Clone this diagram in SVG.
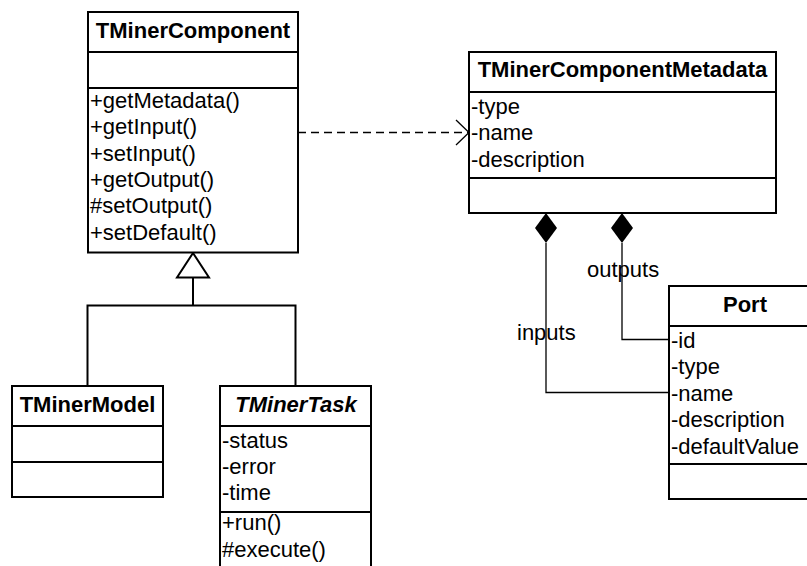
<svg xmlns="http://www.w3.org/2000/svg" width="807" height="566" viewBox="0 0 807 566">
<style>
.box{fill:#fff;stroke:#000;stroke-width:2}
.sep{stroke:#000;stroke-width:2}
.t{font-family:"Liberation Sans",Arial,sans-serif;font-size:22px;fill:#000}
.title{font-weight:bold;text-anchor:middle}
.it{font-style:italic}
.thin{fill:none;stroke:#000;stroke-width:1.3}
.gen{fill:none;stroke:#000;stroke-width:2}
</style>
<rect width="807" height="566" fill="#fff"/>
<g id="connectors">
  <path class="thin" d="M298 132.5H469" stroke-dasharray="8,5"/>
  <path class="thin" d="M456 120L469 132.5L456 145"/>
  <path class="gen" d="M193 277.5V305.5M87.5 386V305.5H295.5V386"/>
  <polygon points="193,253 209,277.5 177,277.5" fill="#fff" stroke="#000" stroke-width="2"/>
  <path class="thin" d="M546 243V392.5H670"/>
  <path class="thin" d="M622 243V339.5H670"/>
  <polygon points="546,213 557,228 546,243 535,228" fill="#000"/>
  <polygon points="622,213 633,228 622,243 611,228" fill="#000"/>
  <text class="t" x="587" y="277">outputs</text>
  <text class="t" x="517" y="340">inputs</text>
</g>
<g id="TMinerComponent">
  <rect class="box" x="88" y="12" width="210" height="240.5"/>
  <line class="sep" x1="88" y1="52" x2="298" y2="52"/>
  <line class="sep" x1="88" y1="88" x2="298" y2="88"/>
  <text class="t title" x="193" y="38">TMinerComponent</text>
  <text class="t" x="90" y="108">+getMetadata()</text>
  <text class="t" x="90" y="134.3">+getInput()</text>
  <text class="t" x="90" y="160.6">+setInput()</text>
  <text class="t" x="90" y="186.9">+getOutput()</text>
  <text class="t" x="90" y="213.2">#setOutput()</text>
  <text class="t" x="90" y="239.5">+setDefault()</text>
</g>
<g id="TMinerComponentMetadata">
  <rect class="box" x="469" y="52" width="307" height="161"/>
  <line class="sep" x1="469" y1="92" x2="776" y2="92"/>
  <line class="sep" x1="469" y1="178" x2="776" y2="178"/>
  <text class="t title" x="622.5" y="77">TMinerComponentMetadata</text>
  <text class="t" x="471" y="113.5">-type</text>
  <text class="t" x="471" y="140">-name</text>
  <text class="t" x="471" y="166.7">-description</text>
</g>
<g id="TMinerModel">
  <rect class="box" x="12" y="386" width="151" height="111"/>
  <line class="sep" x1="12" y1="426" x2="163" y2="426"/>
  <line class="sep" x1="12" y1="462" x2="163" y2="462"/>
  <text class="t title" x="87.5" y="412">TMinerModel</text>
</g>
<g id="TMinerTask">
  <rect class="box" x="220" y="386" width="151" height="200"/>
  <line class="sep" x1="220" y1="426" x2="371" y2="426"/>
  <line class="sep" x1="220" y1="512" x2="371" y2="512"/>
  <text class="t title it" x="296" y="412">TMinerTask</text>
  <text class="t" x="222" y="448.3">-status</text>
  <text class="t" x="222" y="474.3">-error</text>
  <text class="t" x="222" y="500.3">-time</text>
  <text class="t" x="222" y="530">+run()</text>
  <text class="t" x="222" y="556.5">#execute()</text>
</g>
<g id="Port">
  <rect class="box" x="669" y="286" width="153" height="213"/>
  <line class="sep" x1="669" y1="326" x2="822" y2="326"/>
  <line class="sep" x1="669" y1="464" x2="822" y2="464"/>
  <text class="t title" x="745" y="312">Port</text>
  <text class="t" x="671" y="347.5">-id</text>
  <text class="t" x="671" y="374">-type</text>
  <text class="t" x="671" y="400.7">-name</text>
  <text class="t" x="671" y="427.3">-description</text>
  <text class="t" x="671" y="454">-defaultValue</text>
</g>
</svg>
